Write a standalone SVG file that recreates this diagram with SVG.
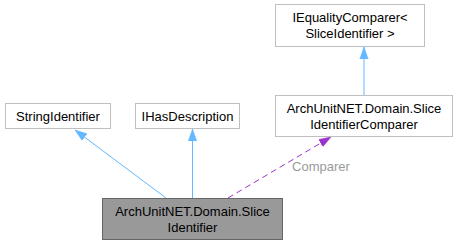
<svg xmlns="http://www.w3.org/2000/svg" width="460" height="245" viewBox="0 0 460 245">
  <style>
    .node rect { fill: #ffffff; stroke: #bfbfbf; stroke-width: 1; }
    .node.main rect { fill: #999999; stroke: #666666; }
    .node text { font-family: "Liberation Sans", Arial, sans-serif; font-size: 13px; fill: #000000; text-anchor: middle; }
    .inherit { stroke: #63b8ff; stroke-width: 1; fill: none; }
    .usage { stroke: #9a32cd; stroke-width: 1; fill: none; stroke-dasharray: 6,4; }
    .label { font-family: "Liberation Sans", Arial, sans-serif; font-size: 13px; fill: #9a9a9a; text-anchor: middle; }
  </style>
  <defs>
    <marker id="arrowBlue" viewBox="0 0 12 10" refX="12" refY="5" markerWidth="12" markerHeight="10" markerUnits="userSpaceOnUse" orient="auto">
      <path d="M0,0.8 L12,5 L0,9.2 Z" fill="#63b8ff" stroke="#63b8ff" stroke-width="0.5"/>
    </marker>
    <marker id="arrowPurple" viewBox="0 0 12 10" refX="12" refY="5" markerWidth="12" markerHeight="10" markerUnits="userSpaceOnUse" orient="auto">
      <path d="M0,0.8 L12,5 L0,9.2 Z" fill="#9a32cd" stroke="#9a32cd" stroke-width="0.5"/>
    </marker>
  </defs>

  <g id="connectors">
    <line class="inherit" x1="166" y1="198" x2="75" y2="130" marker-end="url(#arrowBlue)"/>
    <line class="inherit" x1="192.5" y1="198" x2="192.5" y2="129" marker-end="url(#arrowBlue)"/>
    <line class="inherit" x1="364" y1="95" x2="364" y2="47" marker-end="url(#arrowBlue)"/>
    <line class="usage" x1="228" y1="198" x2="331" y2="137" marker-end="url(#arrowPurple)"/>
    <text class="label" x="321" y="171">Comparer</text>
  </g>

  <g id="node-main" class="node main">
    <rect x="102.5" y="198.5" width="180" height="41"/>
    <text x="192.5" y="216">ArchUnitNET.Domain.Slice</text>
    <text x="192.5" y="232">Identifier</text>
  </g>

  <g id="node-stringidentifier" class="node">
    <rect x="5.5" y="103.5" width="105" height="25"/>
    <text x="58" y="120.5">StringIdentifier</text>
  </g>

  <g id="node-ihasdescription" class="node">
    <rect x="135.5" y="103.5" width="104" height="25"/>
    <text x="187.5" y="120.5">IHasDescription</text>
  </g>

  <g id="node-comparer" class="node">
    <rect x="275.5" y="95.5" width="177" height="41"/>
    <text x="364" y="113">ArchUnitNET.Domain.Slice</text>
    <text x="364" y="129">IdentifierComparer</text>
  </g>

  <g id="node-iequalitycomparer" class="node">
    <rect x="275.5" y="4.5" width="149" height="42"/>
    <text x="350" y="22">IEqualityComparer&lt;</text>
    <text x="350" y="38">SliceIdentifier &gt;</text>
  </g>
</svg>
